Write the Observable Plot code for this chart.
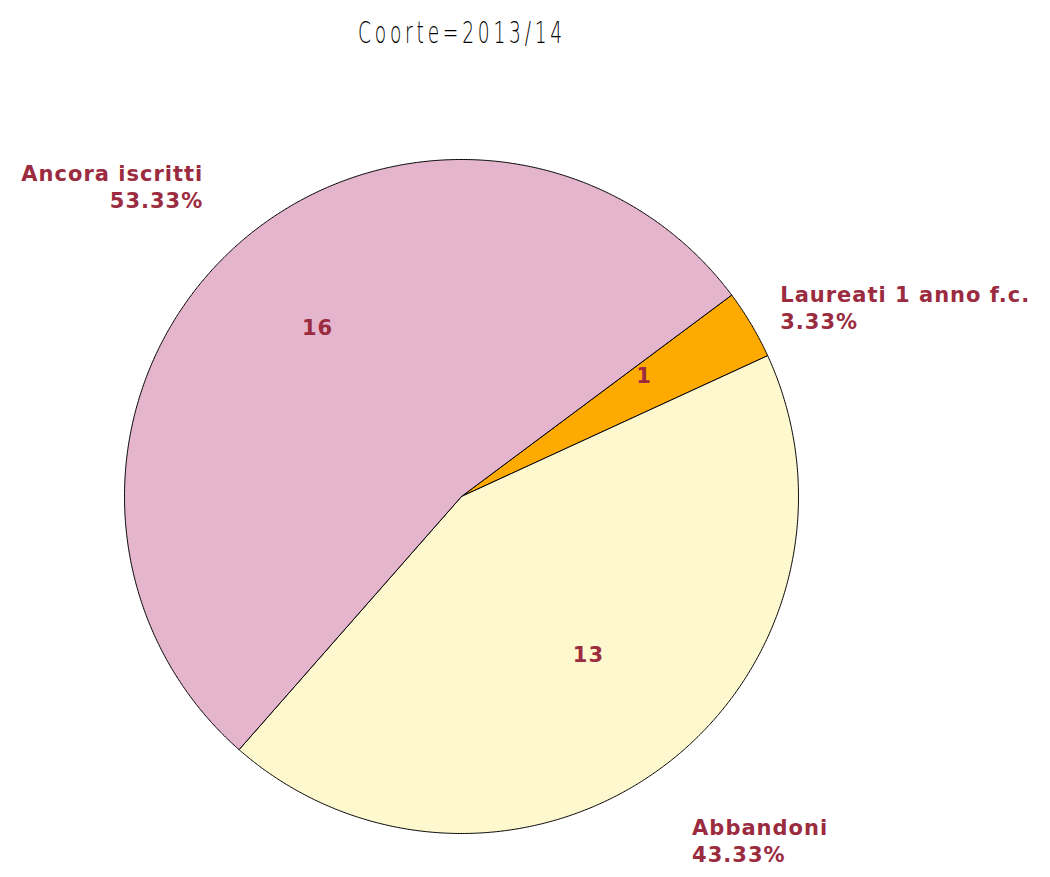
<!DOCTYPE html>
<html><head><meta charset="utf-8">
<script src="https://cdn.jsdelivr.net/npm/d3@7"></script>
<script src="https://cdn.jsdelivr.net/npm/@observablehq/plot@0.6"></script>
<style>
body{margin:0;background:#fff;}
#title{height:60px;position:relative;width:1050px;}
#title span{position:absolute;left:462px;top:15px;transform:translateX(-50%) scaleX(0.62);font-family:"DejaVu Sans";font-weight:200;font-size:30px;letter-spacing:6.1px;white-space:nowrap;color:#000;}
#chart svg text{letter-spacing:1px;}
</style></head>
<body>
<div id="title"><span>Coorte=2013/14</span></div>
<div id="chart"></div>
<script>
const categories = ["Laureati 1 anno f.c.", "Abbandoni", "Ancora iscritti"];
const counts = [1, 13, 16];
const percents = ["3.33%", "43.33%", "53.33%"];
const colors = ["#FFAA00", "#FEF8CE", "#E4B5CD"];
const startAngleDeg = 53.3;

const pie = d3.pie().sort(null).value(d => d.count)
  .startAngle(startAngleDeg * Math.PI / 180)
  .endAngle(startAngleDeg * Math.PI / 180 + 2 * Math.PI);
const slices = pie(categories.map((c, i) => ({cat: c, count: counts[i], pct: percents[i], color: colors[i]})));

const pt = (a, r) => ({x: r * Math.sin(a), y: r * Math.cos(a)});
const poly = [];
slices.forEach(s => {
  poly.push({cat: s.data.cat, color: s.data.color, x: 0, y: 0});
  const n = Math.max(2, Math.ceil((s.endAngle - s.startAngle) / 0.005));
  for (let k = 0; k <= n; k++) {
    const a = s.startAngle + (s.endAngle - s.startAngle) * k / n;
    poly.push({cat: s.data.cat, color: s.data.color, ...pt(a, 1)});
  }
  poly.push({cat: s.data.cat, color: s.data.color, x: 0, y: 0});
});
const inner = slices.map(s => {
  const m = (s.startAngle + s.endAngle) / 2;
  return {label: String(s.data.count), ...pt(m, 0.63)};
});
const outer = slices.map(s => {
  const m = (s.startAngle + s.endAngle) / 2;
  const c = Math.cos(m), sn = Math.sin(m);
  const line = c > 0.7 ? "bottom" : c < -0.7 ? "top" : "middle";
  const rf = line === "middle" ? 1.1 : line === "top" ? 1.145 : 1.13;
  return {label: s.data.cat + "\n" + s.data.pct, ...pt(m, rf),
    anchor: sn >= 0 ? "start" : "end", line};
});
const lineShift = {bottom: -9, top: 10, middle: 0};

const R = 337, cx = 461, cy = 436;
const H = 817;
const labelColor = "#9B2B3F";
const font = {fill: labelColor, fontSize: 21, fontWeight: "bold", fontFamily: "DejaVu Sans"};
const chart = Plot.plot({
  width: 1050, height: H,
  margin: 0,
  x: {domain: [-1, 1], range: [cx - R, cx + R], axis: null},
  y: {domain: [-1, 1], range: [cy + R, cy - R], axis: null},
  color: {type: "identity"},
  style: {background: "#fff"},
  marks: [
    Plot.line(poly, {x: "x", y: "y", z: "cat", fill: "color", stroke: "#000", strokeWidth: 1, curve: "linear-closed"}),
    Plot.text(inner, {x: "x", y: "y", text: "label", lineAnchor: "bottom", dy: -5, ...font}),
    ...["start", "end"].flatMap(a => ["bottom", "top", "middle"].map(l =>
      Plot.text(outer.filter(d => d.anchor === a && d.line === l), {x: "x", y: "y", text: "label", textAnchor: a, lineAnchor: l, dy: lineShift[l], lineHeight: 1.29, ...font})
    ))
  ]
});
document.getElementById("chart").appendChild(chart);
</script>
</body></html>
